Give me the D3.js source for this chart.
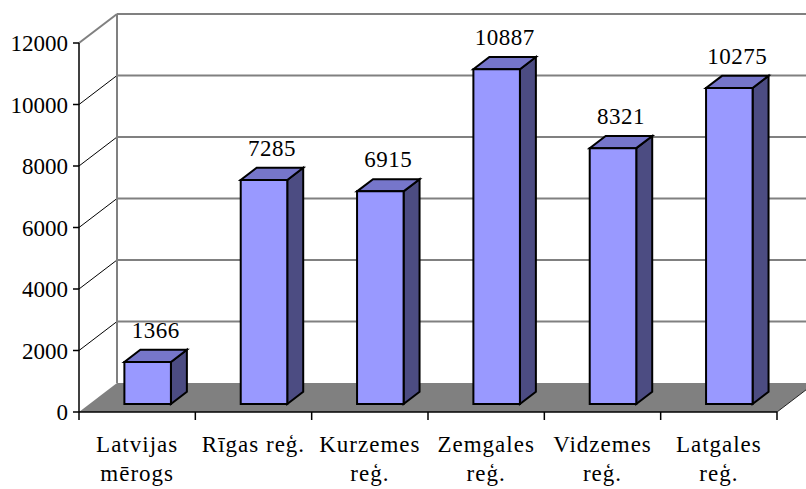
<!DOCTYPE html>
<html>
<head>
<script src="https://cdn.jsdelivr.net/npm/d3@7"></script>
</head>
<body style="margin:0">
<svg width="806" height="489"></svg>
<script>
var categories = ['Latvijas m\u0113rogs', 'R\u012Bgas re\u0123.', 'Kurzemes re\u0123.', 'Zemgales re\u0123.', 'Vidzemes re\u0123.', 'Latgales re\u0123.'];
var values = [1366, 7285, 6915, 10887, 8321, 10275];
var yTicks = [0, 2000, 4000, 6000, 8000, 10000, 12000];

var FONT = '"Liberation Serif", monospace';
var svg = d3.select('svg');
var depth = {dx: 38, dy: 29};          // floor depth
var barFront = 0.276, barDepth = 0.42; // bar placement in depth (fraction)

var x = d3.scaleBand().domain(categories).range([79, 777]).paddingInner(0.6).paddingOuter(0.3);
var y = d3.scaleLinear().domain([0, 12000]).range([412, 43]);

// project a point: front-plane x, value, depth fraction
function P(px, v, d) {
    return [px + d * depth.dx, y(v) - d * depth.dy];
}
function poly(pts) { return pts.map(function(p) { return p.join(','); }).join(' '); }

var x0 = x.range()[0], x1 = x.range()[1];

// floor
svg.append('polygon')
    .attr('points', poly([P(x0, 0, 0), P(x1, 0, 0), P(x1, 0, 1), P(x0, 0, 1)]))
    .attr('fill', '#808080');
svg.append('line')
    .attr('x1', P(x1, 0, 0)[0]).attr('y1', P(x1, 0, 0)[1])
    .attr('x2', P(x1, 0, 1)[0]).attr('y2', P(x1, 0, 1)[1])
    .attr('stroke', '#222').attr('stroke-width', 1);

// back wall gridlines
var gGrid = svg.append('g');
yTicks.filter(function(t) { return t > 0; }).forEach(function(t) {
    var a = P(x0, t, 1), b = P(x1, t, 1);
    gGrid.append('line')
        .attr('x1', a[0]).attr('y1', a[1]).attr('x2', b[0]).attr('y2', b[1])
        .attr('stroke', '#808080').attr('stroke-width', 2);
    var c = P(x0, t, 0);
    gGrid.append('line')
        .attr('x1', c[0]).attr('y1', c[1]).attr('x2', a[0]).attr('y2', a[1])
        .attr('stroke', t === 12000 ? '#808080' : '#000')
        .attr('stroke-width', t === 12000 ? 2 : 1);
});
var wl0 = P(x0, 0, 1), wl1 = P(x0, 12000, 1);
gGrid.append('line')
    .attr('x1', wl0[0]).attr('y1', wl0[1]).attr('x2', wl1[0]).attr('y2', wl1[1])
    .attr('stroke', '#808080').attr('stroke-width', 2);

// axes
var gAxis = svg.append('g').attr('stroke', '#000').attr('stroke-width', 1.5);
gAxis.append('line').attr('x1', x0).attr('x2', x0).attr('y1', y(0)).attr('y2', y(12000));
gAxis.append('line').attr('x1', x0).attr('x2', x1).attr('y1', y(0)).attr('y2', y(0));
yTicks.forEach(function(t) {
    gAxis.append('line').attr('x1', x0 - 6).attr('x2', x0).attr('y1', y(t)).attr('y2', y(t));
});
d3.range(categories.length + 1).forEach(function(i) {
    var px = x0 + i * x.step();
    gAxis.append('line').attr('x1', px).attr('x2', px).attr('y1', y(0)).attr('y2', y(0) + 8);
});

svg.append('g').selectAll('text').data(yTicks).join('text')
    .attr('x', x0 - 11).attr('y', function(d) { return y(d); })
    .attr('dy', '0.35em')
    .attr('text-anchor', 'end')
    .attr('font-size', 23)
    .style('font-family', FONT)
    .text(function(d) { return d; });

// bars
var gBars = svg.append('g').attr('stroke', '#000').attr('stroke-width', 2).attr('stroke-linejoin', 'miter');
categories.forEach(function(c, i) {
    var v = values[i];
    var l = x(c), r = x(c) + x.bandwidth();
    var f = barFront, b = barFront + barDepth;
    gBars.append('polygon').attr('fill', '#4C4C82')
        .attr('points', poly([P(r, 0, f), P(r, 0, b), P(r, v, b), P(r, v, f)]));
    gBars.append('polygon').attr('fill', '#7676CA')
        .attr('points', poly([P(l, v, f), P(r, v, f), P(r, v, b), P(l, v, b)]));
    gBars.append('polygon').attr('fill', '#9999FF')
        .attr('points', poly([P(l, 0, f), P(r, 0, f), P(r, v, f), P(l, v, f)]));
    var top = P((l + r) / 2, v, (f + b) / 2);
    svg.append('text')
        .attr('x', top[0]).attr('y', P(l, v, b)[1] - 12)
        .attr('text-anchor', 'middle')
        .attr('font-size', 23)
        .style('font-family', FONT)
        .style('letter-spacing', '0.5px')
        .text(v);
});

// category labels, wrapped to the band width
var gCat = svg.append('g');
categories.forEach(function(c) {
    var cx = x(c) + x.bandwidth() / 2;
    var t = gCat.append('text')
        .attr('x', cx)
        .attr('y', 452)
        .attr('text-anchor', 'middle')
        .attr('font-size', 23)
        .style('font-family', FONT)
        .style('letter-spacing', '1px');
    t.text(c);
    if (t.node().getComputedTextLength() > x.step()) {
        var words = c.split(' ');
        t.text(null);
        words.forEach(function(w, k) {
            t.append('tspan').attr('x', cx)
                .attr('dy', k === 0 ? 0 : 29).text(w);
        });
    }
});
</script>
</body>
</html>
